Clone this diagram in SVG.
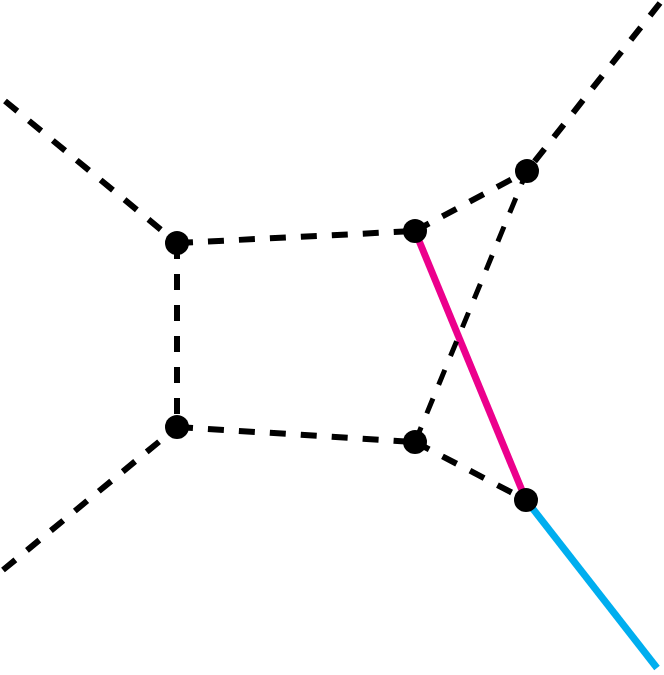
<svg xmlns="http://www.w3.org/2000/svg" width="664" height="675" viewBox="0 0 664 675">
<style>
.d{stroke:#000;stroke-width:6;stroke-dasharray:16 15;fill:none}
.t{stroke:#000;stroke-width:5;stroke-dasharray:16 15;fill:none}
.n{fill:#000}
</style>
<rect width="664" height="675" fill="#fff"/>
<g id="connectors">
<line x1="5" y1="101" x2="177" y2="243" class="d"/>
<line x1="3" y1="570" x2="177" y2="427" class="d"/>
<line x1="660" y1="3" x2="527" y2="171" class="d"/>
<line x1="177" y1="243" x2="415" y2="231" class="d"/>
<line x1="177" y1="243" x2="177" y2="427" class="d"/>
<line x1="177" y1="427" x2="415" y2="442" class="d"/>
<line x1="415" y1="231" x2="527" y2="171" class="d"/>
<line x1="415" y1="442" x2="526" y2="500" class="d"/>
<line x1="415" y1="231" x2="526" y2="500" stroke="#ec008c" stroke-width="7"/>
<line x1="526" y1="500" x2="657" y2="668" stroke="#00aeef" stroke-width="7"/>
<line x1="415" y1="442" x2="527" y2="171" class="t"/>
</g>
<g id="A"><circle cx="177" cy="243" r="12" class="n"/></g>
<g id="B"><circle cx="177" cy="427" r="12" class="n"/></g>
<g id="C"><circle cx="415" cy="231" r="12" class="n"/></g>
<g id="D"><circle cx="415" cy="442" r="12" class="n"/></g>
<g id="E"><circle cx="527" cy="171" r="12" class="n"/></g>
<g id="F"><circle cx="526" cy="500" r="12" class="n"/></g>
</svg>
